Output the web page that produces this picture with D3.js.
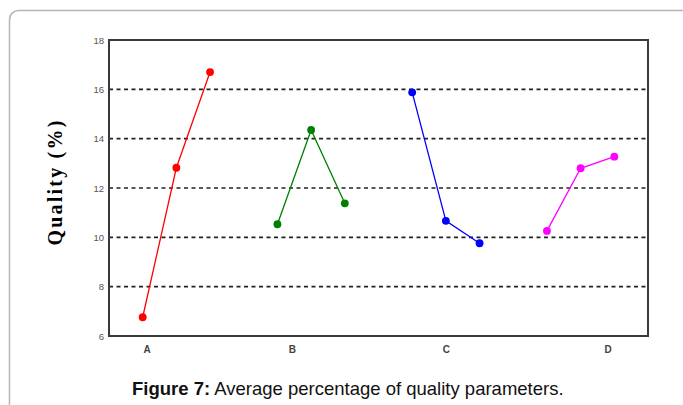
<!DOCTYPE html>
<html>
<script src="https://d3js.org/d3.v7.min.js"></script>

<head>
    <style>
        body {
            margin: 0;
            background-color: #fff;
            font-family: Arial, Helvetica, sans-serif;
        }

        svg {
            display: block;
        }
    </style>
</head>

<body>
</body>
<script>
    const width = 683,
        height = 405;
    const svg = d3.select("body").append("svg").attr("width", width).attr("height", height);

    // groups and their three measured values
    const groups = ["A", "B", "C", "D"];
    const colors = ["#ff0000", "#008000", "#0000ff", "#ff00ff"];
    const valuesA = [6.76, 12.82, 16.7];
    const valuesB = [10.53, 14.35, 11.38];
    const valuesC = [15.88, 10.67, 9.76];
    const valuesD = [10.26, 12.8, 13.27];
    const series = [valuesA, valuesB, valuesC, valuesD];

    const yTicks = [6, 8, 10, 12, 14, 16, 18];
    const gridLines = [8, 10, 12, 14, 16];
    // where the letters sit along the x axis (in point-index units)
    const xLabelPos = [0.12, 4.43, 9.0, 13.8];

    const margin = { left: 109, right: 35, top: 40, bottom: 69 };

    const x = d3.scaleLinear()
        .domain([-1, 15])
        .range([margin.left, width - margin.right]);
    const y = d3.scaleLinear()
        .domain([6, 18])
        .range([height - margin.bottom, margin.top]);

    // outer figure frame
    svg.append("rect")
        .attr("x", 9.5)
        .attr("y", 10.5)
        .attr("width", 700)
        .attr("height", 420)
        .attr("rx", 9)
        .attr("fill", "none")
        .attr("stroke", "#b5b5b5")
        .attr("stroke-width", 1.5);

    // dashed grid
    svg.append("g")
        .selectAll("line")
        .data(gridLines)
        .enter()
        .append("line")
        .attr("x1", x(-1))
        .attr("x2", x(15))
        .attr("y1", d => y(d))
        .attr("y2", d => y(d))
        .attr("stroke", "#222")
        .attr("stroke-width", 1.6)
        .attr("stroke-dasharray", "4,3.5");

    // plot box
    svg.append("rect")
        .attr("x", x(-1))
        .attr("y", y(18))
        .attr("width", x(15) - x(-1))
        .attr("height", y(6) - y(18))
        .attr("fill", "none")
        .attr("stroke", "#3a3a3a")
        .attr("stroke-width", 2);

    // y axis labels
    const yAxis = d3.axisLeft(y).tickValues(yTicks).tickSize(0).tickPadding(5);
    const gy = svg.append("g")
        .attr("transform", `translate(${x(-1)},0)`)
        .call(yAxis);
    gy.select(".domain").remove();
    gy.selectAll("text")
        .attr("font-family", "'Liberation Sans Narrow', 'Arial Narrow', sans-serif")
        .attr("font-size", 9.5)
        .attr("fill", "#555");

    // x axis letters
    const xAxis = d3.axisBottom(x).tickValues(xLabelPos)
        .tickFormat((d, i) => groups[i]).tickSize(0).tickPadding(10);
    const gx = svg.append("g")
        .attr("transform", `translate(0,${y(6)})`)
        .call(xAxis);
    gx.select(".domain").remove();
    gx.selectAll("text")
        .attr("font-family", "'Liberation Sans Narrow', 'Arial Narrow', sans-serif")
        .attr("font-weight", "bold")
        .attr("font-size", 10)
        .attr("fill", "#444");

    // lines and markers
    const line = d3.line()
        .x(d => x(d.i))
        .y(d => y(d.v));

    series.forEach((vals, g) => {
        const pts = vals.map((v, k) => ({ i: g * 4 + k, v: v }));
        svg.append("path")
            .datum(pts)
            .attr("fill", "none")
            .attr("stroke", colors[g])
            .attr("stroke-width", 1.3)
            .attr("d", line);
        svg.append("g")
            .selectAll("path")
            .data(pts)
            .enter()
            .append("path")
            .attr("transform", d => `translate(${x(d.i)},${y(d.v)})`)
            .attr("d", d3.symbol().type(d3.symbolCircle).size(48))
            .attr("fill", colors[g]);
    });

    // y axis title
    svg.append("text")
        .attr("transform", `translate(62,${(y(6) + y(18)) / 2 - 6}) rotate(-90)`)
        .attr("text-anchor", "middle")
        .attr("font-family", "'Liberation Serif', 'Times New Roman', serif")
        .attr("font-weight", "bold")
        .attr("font-size", 20)
        .attr("letter-spacing", 2.2)
        .text("Quality (%)");

    // caption
    const cap = svg.append("text")
        .attr("x", 132)
        .attr("y", 395)
        .attr("font-size", 18.5)
        .attr("fill", "#111");
    cap.append("tspan").attr("font-weight", "bold").text("Figure 7:");
    cap.append("tspan").text(" Average percentage of quality parameters.");
</script>

</html>
